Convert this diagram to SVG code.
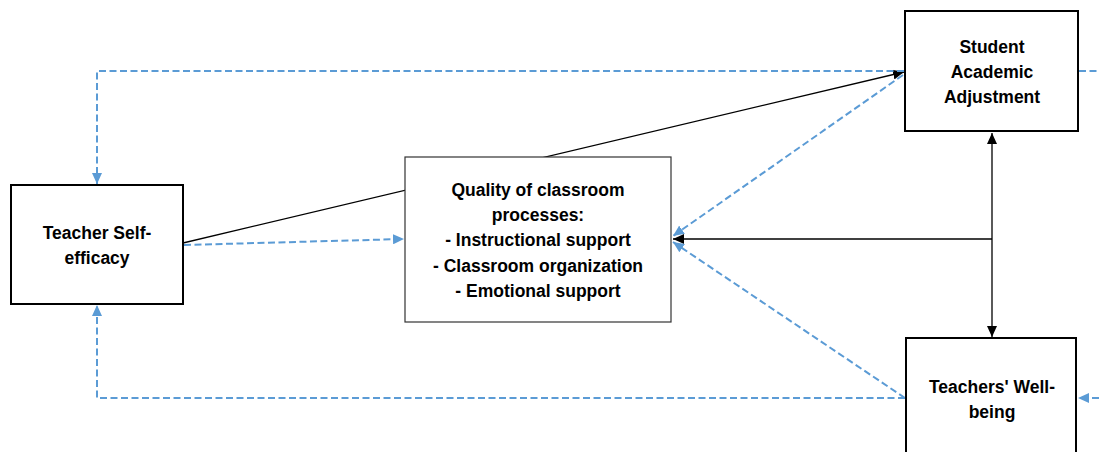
<svg xmlns="http://www.w3.org/2000/svg" width="1099" height="452" viewBox="0 0 1099 452">
<style>
.box{fill:#fff;stroke:#000;stroke-width:2}
.thin{stroke-width:1.2;stroke:#333}
.lbl{font-family:"Liberation Sans",Arial,sans-serif;font-weight:bold;font-size:17.5px;fill:#000;text-anchor:middle}
.blk{fill:none;stroke:#000;stroke-width:1.3}
.blu{fill:none;stroke:#5B9BD5;stroke-width:2;stroke-dasharray:7 3.5}
</style>
<defs>
<marker id="ab" markerUnits="userSpaceOnUse" markerWidth="12" markerHeight="10" refX="11" refY="5" orient="auto-start-reverse"><path d="M0,0 L11,5 L0,10 Z" fill="#000"/></marker>
<marker id="au" markerUnits="userSpaceOnUse" markerWidth="12" markerHeight="10" refX="11" refY="5" orient="auto-start-reverse"><path d="M0,0 L11,5 L0,10 Z" fill="#5B9BD5"/></marker>
</defs>
<g id="connectors">
<path class="blk" d="M183,243 L904,72" marker-end="url(#ab)"/>
<path class="blk" d="M992,239 H673" marker-end="url(#ab)"/>
<path class="blk" d="M992,133 V337" marker-start="url(#ab)" marker-end="url(#ab)"/>
<path class="blu" d="M904,71 H97 V184" marker-end="url(#au)"/>
<path class="blu" d="M184,245 L404,239" marker-end="url(#au)"/>
<path class="blu" d="M903,75 L673,236" marker-end="url(#au)"/>
<path class="blu" d="M905,398 L673,242" marker-end="url(#au)"/>
<path class="blu" d="M905,398 H97 V305" marker-end="url(#au)"/>
<path class="blu" d="M1079,71 H1099"/>
<path class="blu" d="M1099,398 H1078" marker-end="url(#au)"/>
</g>
<g id="teacher-self-efficacy">
<rect class="box" x="11" y="185" width="172" height="119"/>
<text class="lbl" x="97" y="239">Teacher Self-</text>
<text class="lbl" x="97" y="264">efficacy</text>
</g>
<g id="quality">
<rect class="box thin" x="405" y="157" width="266" height="165"/>
<text class="lbl" x="538" y="196">Quality of classroom</text>
<text class="lbl" x="538" y="221">processes:</text>
<text class="lbl" x="538" y="246">- Instructional support</text>
<text class="lbl" x="538" y="272">- Classroom organization</text>
<text class="lbl" x="538" y="297">- Emotional support</text>
</g>
<g id="student-academic-adjustment">
<rect class="box" x="905" y="11" width="173" height="120"/>
<text class="lbl" x="992" y="53">Student</text>
<text class="lbl" x="992" y="78">Academic</text>
<text class="lbl" x="992" y="103">Adjustment</text>
</g>
<g id="teachers-wellbeing">
<rect class="box" x="906" y="338" width="170" height="130"/>
<text class="lbl" x="992" y="393">Teachers'  Well-</text>
<text class="lbl" x="992" y="418">being</text>
</g>
</svg>
